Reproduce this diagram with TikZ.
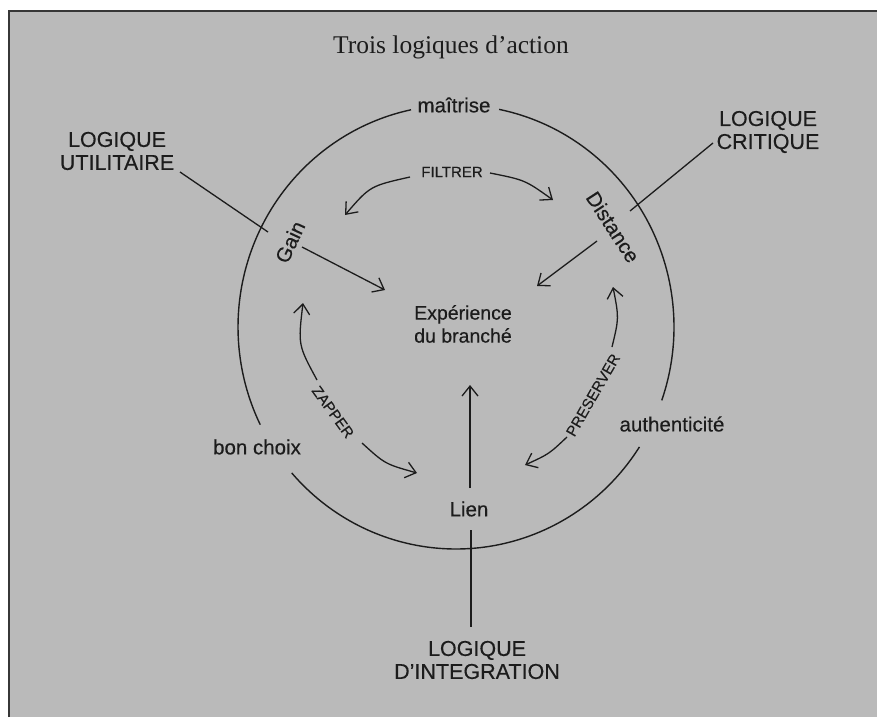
\documentclass[tikz,border=0pt]{standalone}
\usepackage{fontspec}
\setmainfont{Liberation Serif}
\newfontfamily\labelfont[FakeBold=0.35]{Liberation Sans}
\usetikzlibrary{arrows.meta}
\definecolor{bg}{RGB}{186,186,186}
\definecolor{ink}{RGB}{28,28,28}
\definecolor{frame}{RGB}{55,55,55}
\tikzset{
  lbl/.style={font=\labelfont\fontsize{20.5}{22}\selectfont, text=ink, inner sep=1pt},
  caps/.style={font=\labelfont\fontsize{21.5}{23}\selectfont, text=ink, align=center, inner sep=1pt},
  verb/.style={font=\labelfont\fontsize{15}{17}\selectfont, text=ink, inner sep=1pt},
  ttl/.style={font=\fontsize{25.5}{28}\selectfont, text=ink},
  ring/.style={draw=ink, line width=1.4pt},
  leader/.style={draw=ink, line width=1.3pt},
  arr/.style={draw=ink, line width=1.3pt, -{Straight Barb[length=10pt,width=16pt,line width=1.3pt]}}
}
\begin{document}
\begin{tikzpicture}[x=1pt,y=-1pt]
\useasboundingbox (0,0) rectangle (877,717);
\fill[white] (0,0) rectangle (877,717);
\fill[bg] (8,11) rectangle (877,717);
\draw[frame, line width=2pt] (8.5,717) -- (8.5,11.5) -- (877,11.5);

% title
\node[ttl] (title) at (451,47) {Trois logiques d’action};

% circle (ellipse) with gaps
\coordinate (c) at (456,327);
\draw[ring] (c) ++(-101.9:218 and 222) arc[start angle=-101.9, end angle=-206.1, x radius=218, y radius=222];
\draw[ring] (c) ++(-221.1:218 and 222) arc[start angle=-221.1, end angle=-327.3, x radius=218, y radius=222];
\draw[ring] (c) ++(-340.7:218 and 222) arc[start angle=-340.7, end angle=-438.6, x radius=218, y radius=222];

% labels on the ring
\node[lbl] (maitrise) at (454,105) {maîtrise};
\node[lbl] (bonchoix) at (257,447) {bon choix};
\node[lbl] (authen) at (672,424) {authenticité};
\node[lbl] (lien) at (469,509) {Lien};
\node[lbl, rotate=65] (gain) at (290,242) {Gain};
\node[lbl, rotate=-57] (distance) at (613,227) {Distance};

% centre
\node[lbl, align=center, font=\labelfont\fontsize{19.5}{23}\selectfont] (exp) at (463,324) {Expérience\\du branché};

% verbs
\node[verb] (filtrer) at (452,172) {FILTRER};
\node[verb, rotate=-54] (zapper) at (333,412) {ZAPPER};
\node[verb, rotate=60] (preserver) at (593,395) {PRESERVER};

% logiques
\node[caps] (lu) at (117,151) {LOGIQUE\\UTILITAIRE};
\node[caps] (lc) at (768,132) {LOGIQUE\\CRITIQUE};
\node[caps] (li) at (477,660) {LOGIQUE\\D’INTEGRATION};

% leader lines
\coordinate (lu1) at (180,172);
\coordinate (lu2) at (268,232);
\coordinate (lc1) at (713,143);
\coordinate (lc2) at (630,211);
\coordinate (li1) at (471,530);
\coordinate (li2) at (471,627);
\draw[leader] (lu1) -- (lu2);
\draw[leader] (lc1) -- (lc2);
\draw[leader] (li1) -- (li2);

% arrows
\coordinate (f1a) at (410,177); \coordinate (f1b) at (345,215);
\coordinate (f2a) at (490,173); \coordinate (f2b) at (553,200);
\coordinate (ga) at (302,247);  \coordinate (gb) at (385,290);
\coordinate (da) at (597,241);  \coordinate (db) at (537,286);
\coordinate (z1a) at (317,380); \coordinate (z1b) at (303,303);
\coordinate (z2a) at (362,443); \coordinate (z2b) at (417,473);
\coordinate (p1a) at (612,347); \coordinate (p1b) at (613,287);
\coordinate (p2a) at (567,437); \coordinate (p2b) at (525,465);
\coordinate (la) at (470,488);  \coordinate (lb) at (470,385);

\draw[arr] (f1a) .. controls (370,186) .. (f1b);
\draw[arr] (f2a) .. controls (525,180) .. (f2b);
\draw[arr] (ga) -- (gb);
\draw[arr] (da) -- (db);
\draw[arr] (z1a) .. controls (298,345) .. (z1b);
\draw[arr] (z2a) .. controls (385,464) .. (z2b);
\draw[arr] (p1a) .. controls (619,318) .. (p1b);
\draw[arr] (p2a) .. controls (549,454) .. (p2b);
\draw[arr] (la) -- (lb);
\end{tikzpicture}
\end{document}
